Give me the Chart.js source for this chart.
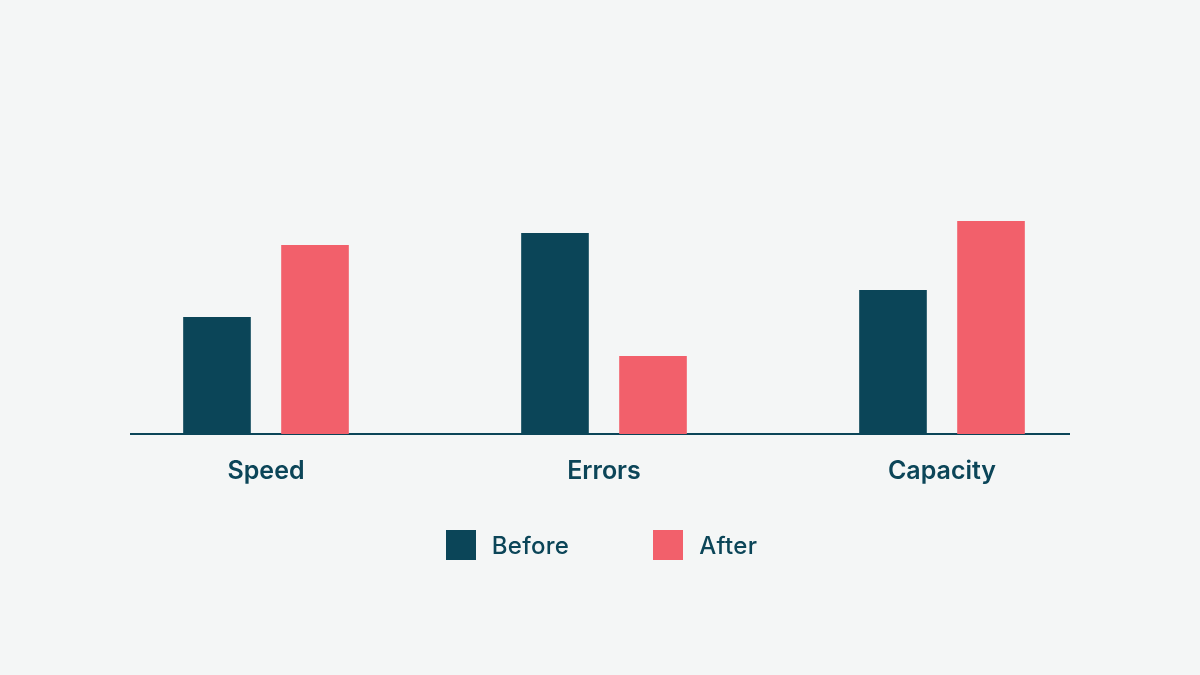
<!DOCTYPE html>
<html>
<head>
<meta charset="utf-8">
<script src="https://cdn.jsdelivr.net/npm/chart.js@4/dist/chart.umd.min.js"></script>
<style>
  html, body { margin: 0; padding: 0; background: #f4f6f6; }
  #wrap { position: relative; width: 1200px; height: 675px; }
  #legend {
    position: absolute; left: 3px; right: 0; top: 530px;
    display: flex; justify-content: center; gap: 84px;
    font-family: Inter, "Noto Sans", sans-serif; font-weight: 500;
    font-size: 24px; color: #0b4558; letter-spacing: 0.3px;
  }
  #legend .item { display: flex; align-items: center; gap: 16px; height: 30px; }
  #legend .box { width: 30px; height: 30px; }
</style>
</head>
<body>
<div id="wrap">
  <canvas id="chart" width="1200" height="675"></canvas>
  <div id="legend"></div>
</div>
<script>
// data
const categories = ['Speed', 'Errors', 'Capacity'];
const beforeValues = [39, 67, 48];
const afterValues = [63, 26, 71];
const seriesNames = ['Before', 'After'];

const TEAL = '#0b4558';
const CORAL = '#f2606b';

// baseline under the bars, a bit shorter than the plot area
const baselinePlugin = {
  id: 'baseline',
  beforeDatasetsDraw(chart) {
    const { ctx, chartArea, scales } = chart;
    const y = scales.y.getPixelForValue(0);
    ctx.save();
    ctx.strokeStyle = TEAL;
    ctx.lineWidth = 2;
    ctx.beginPath();
    ctx.moveTo(chartArea.left + 33, y);
    ctx.lineTo(chartArea.right - 41, y);
    ctx.stroke();
    ctx.restore();
  }
};

const chart = new Chart(document.getElementById('chart'), {
  type: 'bar',
  data: {
    labels: categories,
    datasets: [
      { label: seriesNames[0], data: beforeValues, backgroundColor: TEAL },
      { label: seriesNames[1], data: afterValues, backgroundColor: CORAL }
    ]
  },
  options: {
    responsive: false,
    animation: false,
    categoryPercentage: 0.58,
    barPercentage: 0.69,
    layout: { padding: { left: 97, right: 89, top: 134, bottom: 167 } },
    plugins: { legend: { display: false }, tooltip: { enabled: false } },
    scales: {
      x: {
        grid: { display: false, drawTicks: false },
        border: { display: false },
        ticks: {
          padding: 22,
          color: TEAL,
          font: { family: 'Inter, "Noto Sans", sans-serif', size: 25, weight: 600 }
        }
      },
      y: { display: false, min: 0, max: 100 }
    }
  },
  plugins: [baselinePlugin]
});

// html legend from the datasets
const legendEl = document.getElementById('legend');
chart.data.datasets.forEach(ds => {
  const item = document.createElement('div');
  item.className = 'item';
  item.innerHTML = `<span class="box" style="background:${ds.backgroundColor}"></span><span>${ds.label}</span>`;
  legendEl.appendChild(item);
});
</script>
</body>
</html>
